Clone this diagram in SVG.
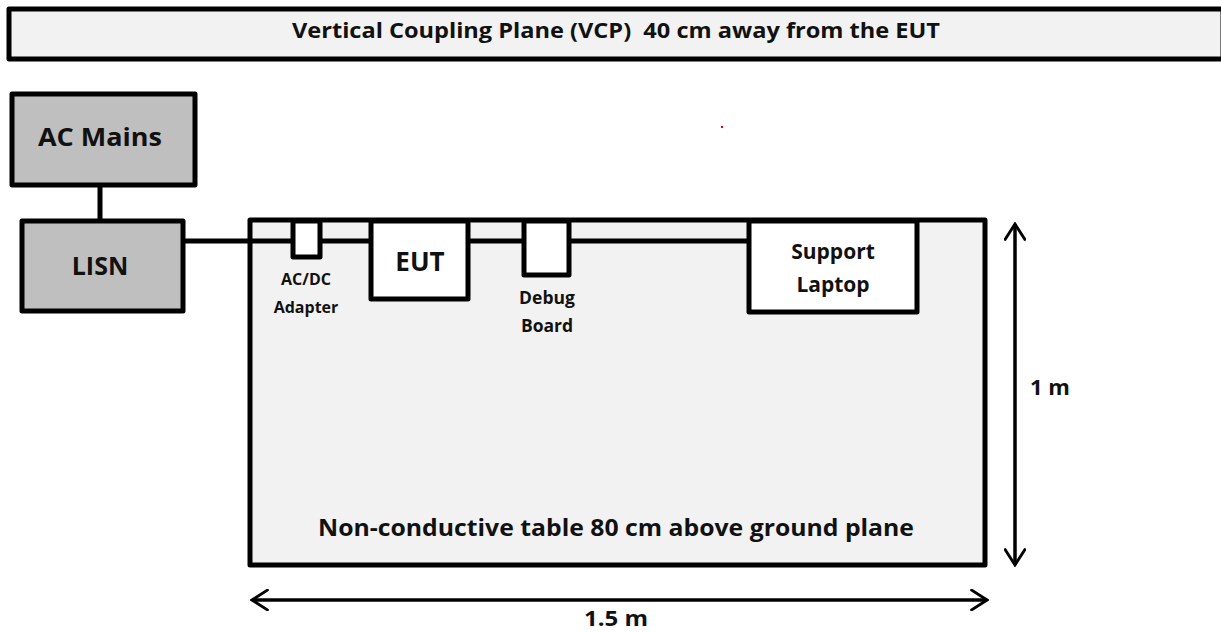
<svg xmlns="http://www.w3.org/2000/svg" width="1221" height="632" viewBox="0 0 1221 632">
<defs>
<style>
.box{stroke:#000;stroke-width:5;stroke-linejoin:round}
.grey{fill:#bfbfbf}
.light{fill:#f2f2f2}
.white{fill:#fff}
.t{font-family:"Open Sans","Liberation Sans",sans-serif;font-weight:bold;fill:#111;text-anchor:middle;white-space:pre}
.wire{stroke:#000;stroke-width:5;fill:none}
.dim{stroke:#000;stroke-width:3.5;fill:none}
</style>
<marker id="ah" viewBox="0 0 20 20" refX="18" refY="10" markerWidth="22" markerHeight="22" markerUnits="userSpaceOnUse" orient="auto-start-reverse">
<path d="M4 1 L18 10 L4 19" fill="none" stroke="#000" stroke-width="2.6" stroke-linecap="round"/>
</marker>
</defs>
<rect width="1221" height="632" fill="#fff"/>
<g id="vcp">
<rect class="box light" x="9" y="9" width="1214" height="50"/>
<text class="t" x="616" y="38" font-size="22" textLength="648" lengthAdjust="spacingAndGlyphs" xml:space="preserve">Vertical Coupling Plane (VCP)  40 cm away from the EUT</text>
</g>
<g id="table">
<rect class="box light" x="250" y="220" width="735" height="345"/>
<text class="t" x="616" y="536" font-size="23" textLength="596" lengthAdjust="spacingAndGlyphs">Non-conductive table 80 cm above ground plane</text>
</g>
<g id="connectors">
<line class="wire" x1="100" y1="186" x2="100" y2="220"/>
<line class="wire" x1="185" y1="241" x2="750" y2="241"/>
</g>
<g id="ac-mains">
<rect class="box grey" x="12" y="94" width="183" height="91"/>
<text class="t" x="100" y="146" font-size="25" textLength="124" lengthAdjust="spacingAndGlyphs">AC Mains</text>
</g>
<g id="lisn">
<rect class="box grey" x="22" y="221" width="161" height="90"/>
<text class="t" x="100" y="275" font-size="25">LISN</text>
</g>
<g id="adapter">
<rect class="box white" x="293" y="221" width="27" height="36"/>
<text class="t" x="306" y="285" font-size="16">AC/DC</text>
<text class="t" x="306" y="313" font-size="16">Adapter</text>
</g>
<g id="eut">
<rect class="box white" x="371" y="221" width="97" height="78"/>
<text class="t" x="420" y="271" font-size="26">EUT</text>
</g>
<g id="debug">
<rect class="box white" x="524" y="221" width="45" height="54"/>
<text class="t" x="547" y="304" font-size="17.5">Debug</text>
<text class="t" x="547" y="332" font-size="17.5">Board</text>
</g>
<g id="laptop">
<rect class="box white" x="749" y="221" width="168" height="91"/>
<text class="t" x="833" y="259" font-size="21">Support</text>
<text class="t" x="833" y="292" font-size="21">Laptop</text>
</g>
<g id="dimensions">
<line class="dim" x1="1015" y1="224" x2="1015" y2="565" marker-start="url(#ah)" marker-end="url(#ah)"/>
<text class="t" x="1050" y="395" font-size="22">1 m</text>
<line class="dim" x1="252" y1="600" x2="987" y2="600" marker-start="url(#ah)" marker-end="url(#ah)"/>
<text class="t" x="616" y="626" font-size="22" textLength="64" lengthAdjust="spacingAndGlyphs">1.5 m</text>
</g>
<rect x="721" y="126" width="2" height="2" fill="#e00"/>
</svg>
